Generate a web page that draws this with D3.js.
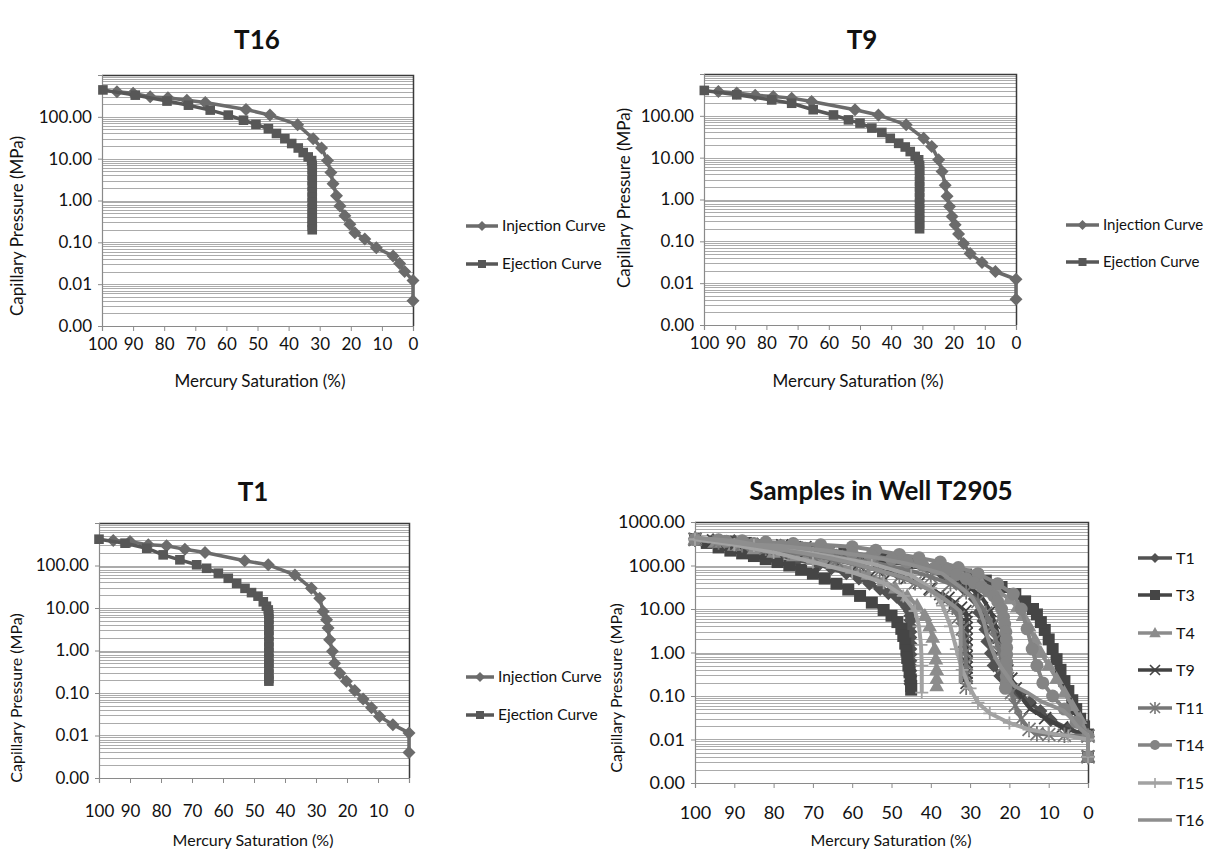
<!DOCTYPE html>
<html><head><meta charset="utf-8">
<script src="https://cdn.jsdelivr.net/npm/d3@7"></script>
<style>
body{margin:0;background:#fff}
svg{display:block}
text{font-family:Lato,"Open Sans",sans-serif;fill:#111}
</style>
</head><body>
<svg id="c" width="1208" height="852"></svg>
<script>
// ---------- tick values & labels ----------
const xTickValues = [100,90,80,70,60,50,40,30,20,10,0];
const yTickValues = [0.001,0.01,0.1,1,10,100];
const yTickValuesWell = [0.001,0.01,0.1,1,10,100,1000];
const yTickLabels = {0.001:"0.00",0.01:"0.01",0.1:"0.10",1:"1.00",10:"10.00",100:"100.00",1000:"1000.00"};
const panelLegend = ["Injection Curve","Ejection Curve"];
const wellSamples = ["T1","T3","T4","T9","T11","T14","T15","T16"];

// ---------- T16 ----------
const t16Injection = [[0,0.004],[0,0.0123],[2.7,0.020],[4.3,0.031],[6.4,0.047],[11.8,0.074],[15.5,0.12],[18.7,0.17],[20.3,0.27],[21.9,0.43],[23.5,0.74],[24.6,1.3],[25.7,2.5],[26.4,4.7],[27.5,9],[29.4,18],[32.1,30],[37.1,65],[46,110],[53.7,150],[66.8,220],[72.7,250],[78.8,285],[84.5,300],[90,365],[95.2,400]];
const t16Ejection = [[99.7,440],[89.3,330],[79.1,238],[72.2,190],[65.2,145],[59.4,110],[54.5,83],[50.5,66],[46.5,52],[43.9,40],[41.2,30],[39,23],[36.9,18],[35.3,14],[33.7,11],[32.6,9],[32.4,7],[32.4,5.5],[32.4,4],[32.4,3],[32.4,2.2],[32.4,1.6],[32.4,1.2],[32.4,0.9],[32.4,0.65],[32.4,0.5],[32.4,0.38],[32.4,0.3],[32.4,0.24],[32.4,0.2]];

// ---------- T9 ----------
const t9Injection = [[0,0.0041],[0,0.0124],[6.6,0.019],[10.9,0.031],[14.7,0.051],[16.8,0.089],[18.4,0.15],[19.5,0.25],[20.5,0.39],[21.3,0.68],[22.1,1.2],[22.7,2.2],[23.7,4.7],[24.8,8.9],[27,18.5],[29.6,29],[35.2,61],[44.1,105],[51.6,140],[65.5,220],[71.9,265],[77.8,290],[83.6,310],[89.5,350],[95.4,380]];
const t9Ejection = [[99.9,405],[89.5,318],[78.3,240],[71.9,200],[65,140],[58.5,105],[53.7,80],[50,67],[46.2,51],[43,40],[40.3,29],[37.6,22],[35.5,18],[33.9,14],[32.3,10.7],[31.2,8.9],[30.9,6.5],[30.9,5],[30.9,3.7],[30.9,2.7],[30.9,2],[30.9,1.5],[30.9,1.1],[30.9,0.8],[30.9,0.6],[30.9,0.45],[30.9,0.34],[30.9,0.26],[30.9,0.2]];

// ---------- T1 ----------
const t1Injection = [[0,0.004],[0,0.0115],[5.2,0.018],[9.5,0.028],[12.1,0.045],[14.8,0.072],[17.5,0.115],[20.2,0.19],[22.3,0.29],[24,0.5],[24.7,0.96],[25.6,1.8],[26.1,3.4],[26.6,5.3],[27.7,8.3],[28.8,17],[31.5,29],[36.8,60],[45.4,104],[53,129],[65.8,202],[72.3,242],[78.2,290],[84.1,306],[90,367],[95.4,387]];
const t1Ejection = [[100,416],[91.6,335],[84.6,255],[79.3,178],[73.9,136],[68.5,104],[65.3,86],[61.5,66],[58.3,50],[55.6,38],[52.9,29],[50.8,23],[48.7,19],[47,14],[46,11],[45.4,9],[45.2,7],[45.2,5.5],[45.2,4],[45.2,3],[45.2,2.2],[45.2,1.6],[45.2,1.2],[45.2,0.9],[45.2,0.65],[45.2,0.5],[45.2,0.38],[45.2,0.28],[45.2,0.22],[45.2,0.19]];

// ---------- other samples of well T2905 (injection then ejection) ----------
const t3Injection = [[0,0.004],[0,0.013],[1,0.02],[2,0.03],[3,0.05],[4,0.08],[5,0.13],[6,0.22],[7,0.4],[8,0.7],[9,1.2],[10,2],[11,3.3],[12,5],[13,7.5],[14,10],[16,15],[18.5,22],[22,32],[26,45],[31,62],[37,85],[44,115],[52,150],[62,200],[74,260],[87,330],[100,400]];
const t3Ejection = [[100,400],[97,330],[94,260],[91,220],[88,190],[85,165],[82,140],[79,120],[76,100],[73,80],[70,65],[67,50],[64,38],[61,28],[58,20],[55,14],[52,9.5],[50,7],[48.5,5],[47.5,3.5],[47,2.4],[46.5,1.6],[46.2,1.1],[46,0.75],[45.7,0.5],[45.4,0.35],[45.1,0.24],[45,0.17],[45,0.14]];
const t4Injection = [[0,0.004],[0,0.012],[2,0.03],[4,0.06],[6,0.12],[8,0.25],[10,0.5],[12,1],[13.5,2],[15,4],[16.5,7],[18,11],[20,17],[23,26],[27,38],[32,55],[38,80],[46,115],[56,160],[68,220],[82,300],[100,400]];
const t4Ejection = [[100,400],[95,340],[90,290],[85,240],[80,200],[75,165],[70,135],[65,110],[60,85],[56,62],[52,44],[49,30],[46,20],[43.5,12],[41.5,7],[40.3,4],[39.5,2.2],[39,1.2],[38.7,0.7],[38.5,0.4],[38.5,0.25],[38.5,0.17]];
const t11Injection = [[0,0.004],[0,0.012],[6,0.0125],[10,0.013],[13,0.0135],[15,0.017],[17,0.03],[18.5,0.06],[19.5,0.12],[20.5,0.25],[21.5,0.5],[22.5,1],[23.5,2],[24.5,4],[26,8],[28,15],[31,25],[35,38],[40,55],[46,80],[54,115],[64,160],[76,230],[88,310],[100,400]];
const t11Ejection = [[100,400],[94,350],[88,300],[82,250],[76,205],[70,165],[64,130],[58,100],[53,75],[48,55],[44,40],[40,28],[37,18],[34.5,11],[33,6.5],[32,3.5],[31.5,1.8],[31.2,1],[31,0.55],[31,0.3],[31,0.16]];
const t14Injection = [[0,0.004],[0,0.012],[3,0.025],[6,0.05],[9,0.1],[11.5,0.2],[13,0.5],[14.2,1.2],[15.5,3.5],[17,10],[19,22],[23,38],[28,65],[33,90],[37.6,120],[43,150],[48,180],[54,225],[60,270],[68,300],[75,320],[82,345],[88,370],[94,390],[100,400]];
const t14Ejection = [[100,400],[92,360],[85,320],[78,285],[72,250],[66,220],[60,190],[55,165],[50,140],[46,120],[42,100],[39,88],[36,75],[33.5,62],[31,50],[29,40],[27,32],[25.5,26],[24,20],[23,15],[22,10],[21.5,6.5],[21.2,4.5],[20.9,3],[20.8,2],[20.7,1.3],[20.7,0.9],[20.7,0.6],[20.7,0.4],[20.8,0.28],[20.8,0.2],[21,0.15]];
const t15Injection = [[0,0.004],[0,0.01],[5,0.012],[10,0.014],[15,0.017],[20,0.024],[25,0.04],[28,0.07],[30,0.15],[32,0.4],[33.5,1.2],[35,4],[37,12],[40,30],[45,60],[55,110],[70,190],[85,290],[100,400]];
const t15Ejection = [[100,400],[90,300],[80,200],[70,120],[60,70],[52,40],[47,20],[44,9],[43,4],[42.5,1.5],[42.3,0.5],[42.3,0.12]];

// ---------- drawing ----------
const svg = d3.select("#c");

function markerPath(type, r){
  switch(type){
    case "diamond": return `M0,${-r}L${r},0L0,${r}L${-r},0Z`;
    case "square": return `M${-r},${-r}H${r}V${r}H${-r}Z`;
    case "triangle": return `M0,${-r*1.1}L${r*1.05},${r*0.75}L${-r*1.05},${r*0.75}Z`;
    case "circle": return d3.symbol(d3.symbolCircle, Math.PI*r*r)();
    case "times": return `M${-r},${-r}L${r},${r}M${-r},${r}L${r},${-r}`;
    case "asterisk": return `M${-r},${-r}L${r},${r}M${-r},${r}L${r},${-r}M0,${-r*1.2}V${r*1.2}`;
    case "plus": return `M${-r},0H${r}M0,${-r}V${r}`;
    default: return "";
  }
}
const strokeMarkers = new Set(["times","asterisk","plus"]);

function drawPanel(cfg){
  const g = svg.append("g");
  const x = d3.scaleLinear().domain([100,0]).range([cfg.x0,cfg.x1]);
  const y = d3.scaleLog().domain([0.001,1000]).range([cfg.yb,cfg.yt]);

  // gridlines (log minor grid)
  const grid = [];
  for(let e=-3;e<3;e++) for(let m=1;m<10;m++) grid.push(+(m*Math.pow(10,e)).toPrecision(3));
  grid.push(1000);
  g.append("g").selectAll("line").data(grid.filter(v=>v>0.001)).join("line")
    .attr("x1",cfg.x0).attr("x2",cfg.x1)
    .attr("y1",d=>Math.round(y(d))+0.5).attr("y2",d=>Math.round(y(d))+0.5)
    .attr("stroke","#ababab").attr("stroke-width",1);

  // top & right border
  g.append("path").attr("d",`M${cfg.x0},${cfg.yt+0.5}H${cfg.x1+0.5}V${cfg.yb}`)
    .attr("fill","none").attr("stroke","#3a3a3a").attr("stroke-width",1.5);

  // axes
  const ya = g.append("g").attr("transform",`translate(${cfg.x0},0)`)
    .call(d3.axisLeft(y).tickValues(cfg.yTicks).tickFormat(d=>yTickLabels[d]).tickSize(4).tickPadding(6));
  const xa = g.append("g").attr("transform",`translate(0,${cfg.yb})`)
    .call(d3.axisBottom(x).tickValues(xTickValues).tickFormat(d3.format("d")).tickSize(5).tickPadding(cfg.xPad));
  [ya,xa].forEach(a=>{
    a.select(".domain").attr("stroke","#8a8a8a").attr("stroke-width",1.2);
    a.selectAll(".tick line").attr("stroke","#8a8a8a");
    a.selectAll(".tick text").attr("font-size",cfg.tickFont).attr("fill","#111")
      .style("font-family","Lato,sans-serif");
  });

  // series
  const line = d3.line().x(d=>x(d[0])).y(d=>y(d[1]));
  cfg.series.forEach(s=>{
    g.append("path").datum(s.data).attr("d",line)
      .attr("fill","none").attr("stroke",s.color).attr("stroke-width",s.lw||3.5)
      .attr("stroke-linejoin","round");
    if(s.marker){
      const stroke = strokeMarkers.has(s.marker);
      g.append("g").selectAll("path").data(s.data).join("path")
        .attr("transform",d=>`translate(${x(d[0])},${y(d[1])})`)
        .attr("d",markerPath(s.marker,s.mr))
        .attr("fill",stroke?"none":s.color)
        .attr("stroke",stroke?s.color:"none")
        .attr("stroke-width",stroke?1.8:0);
    }
  });

  // titles
  g.append("text").attr("x",cfg.titleX).attr("y",cfg.titleY).attr("text-anchor","middle")
    .attr("font-size",cfg.titleFont).attr("font-weight","bold").attr("fill","#000").text(cfg.title);
  g.append("text").attr("x",cfg.xTitleX).attr("y",cfg.xTitleY).attr("text-anchor","middle")
    .attr("font-size",cfg.axisTitleFont).text("Mercury Saturation (%)");
  g.append("text").attr("transform",`translate(${cfg.yTitleX},${cfg.yTitleY}) rotate(-90)`)
    .attr("text-anchor","middle").attr("font-size",cfg.axisTitleFont).text("Capillary Pressure (MPa)");

  // legend
  cfg.legend.forEach((l,i)=>{
    const ly = cfg.legY[i];
    g.append("line").attr("x1",cfg.legX0).attr("x2",cfg.legX1).attr("y1",ly).attr("y2",ly)
      .attr("stroke",l.color).attr("stroke-width",3.5);
    if(l.marker){
      const stroke = strokeMarkers.has(l.marker);
      g.append("path").attr("transform",`translate(${(cfg.legX0+cfg.legX1)/2},${ly})`)
        .attr("d",markerPath(l.marker,l.mr))
        .attr("fill",stroke?"none":l.color).attr("stroke",stroke?l.color:"none").attr("stroke-width",stroke?1.6:0);
    }
    g.append("text").attr("x",cfg.legX1+4).attr("y",ly).attr("dy","0.35em")
      .attr("font-size",cfg.legFont).text(l.name);
  });
}

const injColor = "#6b6b6b", ejColor = "#575757";
function twoCurve(inj, ej){
  return [
    {data:inj,color:injColor,marker:"diamond",mr:6.5},
    {data:ej,color:ejColor,marker:"square",mr:4.8}
  ];
}
const twoLegend = [
  {name:panelLegend[0],color:injColor,marker:"diamond",mr:5},
  {name:panelLegend[1],color:ejColor,marker:"square",mr:4}
];

drawPanel({title:"T16",titleX:257,titleY:49,titleFont:26,x0:102,x1:413,yt:75,yb:326,yTicks:yTickValues,xPad:7,tickFont:17,
  xTitleX:260,xTitleY:387,yTitleX:23,yTitleY:226,axisTitleFont:17,
  series:twoCurve(t16Injection,t16Ejection),legend:twoLegend,legX0:466,legX1:498,legY:[226,264],legFont:15.5});

drawPanel({title:"T9",titleX:862,titleY:49,titleFont:26,x0:704,x1:1016,yt:74,yb:325,yTicks:yTickValues,xPad:7,tickFont:17,
  xTitleX:858,xTitleY:387,yTitleX:630,yTitleY:198,axisTitleFont:17,
  series:twoCurve(t9Injection,t9Ejection),legend:twoLegend,legX0:1066,legX1:1099,legY:[225,262],legFont:15});

drawPanel({title:"T1",titleX:253,titleY:501,titleFont:26,x0:99,x1:409,yt:523,yb:778,yTicks:yTickValues,xPad:22,tickFont:17,
  xTitleX:253,xTitleY:846,yTitleX:22,yTitleY:698,axisTitleFont:16,
  series:twoCurve(t1Injection,t1Ejection),legend:twoLegend,legX0:466,legX1:494,legY:[677,715],legFont:15.5});

const wellColors = ["#525252","#454545","#8c8c8c","#424242","#767676","#848484","#a2a2a2","#8e8e8e"];
const wellMarkers = ["diamond","square","triangle","times","asterisk","circle","plus",null];
const wellData = [
  t1Injection.concat(t1Ejection), t3Injection.concat(t3Ejection), t4Injection.concat(t4Ejection),
  t9Injection.concat(t9Ejection), t11Injection.concat(t11Ejection), t14Injection.concat(t14Ejection),
  t15Injection.concat(t15Ejection), t16Injection.concat(t16Ejection)
];
const wellSize = [7,6,7,6,6.5,6.5,6.5,0];
drawPanel({title:"Samples in Well T2905",titleX:881,titleY:500,titleFont:26,x0:695,x1:1088,yt:522,yb:783,yTicks:yTickValuesWell,xPad:18,tickFont:18,
  xTitleX:891,xTitleY:846,yTitleX:622,yTitleY:688,axisTitleFont:16,
  series:wellSamples.map((n,i)=>({data:wellData[i],color:wellColors[i],marker:wellMarkers[i],mr:wellSize[i],lw:4})),
  legend:wellSamples.map((n,i)=>({name:n,color:wellColors[i],marker:wellMarkers[i],mr:i===2?5.5:5})),
  legX0:1138,legX1:1172,legY:[558,595,633,670,708,745,783,820],legFont:16});
</script>
</body></html>
